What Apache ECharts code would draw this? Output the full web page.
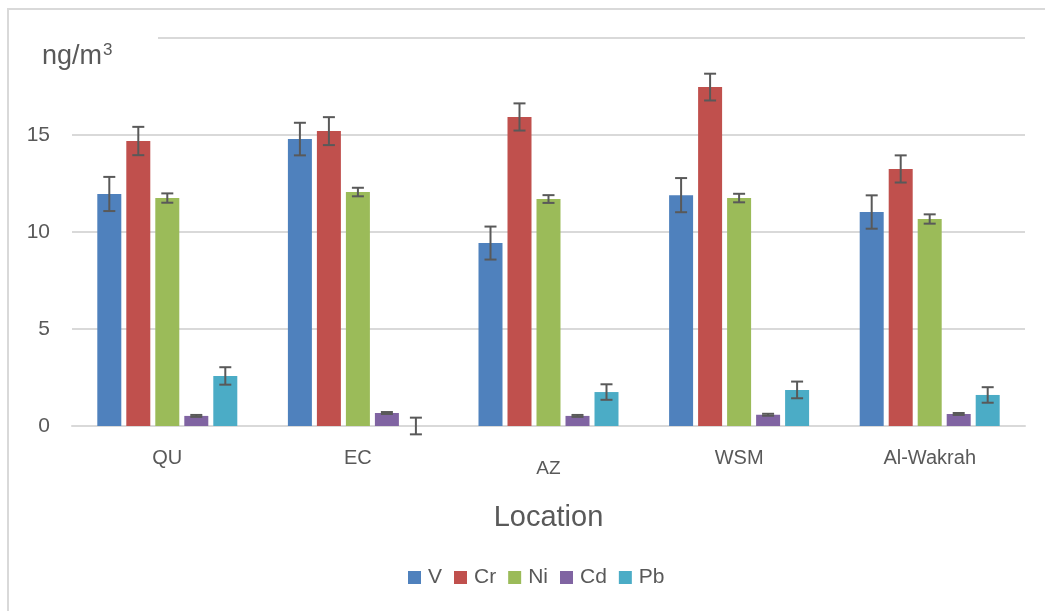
<!DOCTYPE html>
<html><head><meta charset="utf-8">
<script src="https://cdn.jsdelivr.net/npm/echarts@6/dist/echarts.min.js"></script>
<style>html,body{margin:0;padding:0;background:#fff}#c{width:1045px;height:611px}</style>
</head><body><div id="c"></div>
<script>
const categories = ['QU', 'EC', 'AZ', 'WSM', 'Al-Wakrah'];
const seriesNames = ['V', 'Cr', 'Ni', 'Cd', 'Pb'];
const V  = [11.96, 14.79, 9.43, 11.90, 11.03];
const Cr = [14.69, 15.20, 15.93, 17.47, 13.25];
const Ni = [11.75, 12.06, 11.70, 11.75, 10.67];
const Cd = [0.52, 0.67, 0.52, 0.58, 0.62];
const Pb = [2.58, 0.00, 1.75, 1.86, 1.60];
const errV  = [0.88, 0.84, 0.85, 0.88, 0.86];
const errCr = [0.73, 0.72, 0.70, 0.69, 0.70];
const errNi = [0.24, 0.22, 0.20, 0.22, 0.24];
const errCd = [0.05, 0.05, 0.05, 0.05, 0.05];
const errPb = [0.45, 0.43, 0.40, 0.43, 0.40];
const yTicks = [0, 5, 10, 15, 20];

const colors = ['#4F81BD', '#C0504D', '#9BBB59', '#8064A2', '#4BACC6'];
const values = [V, Cr, Ni, Cd, Pb];
const errs = [errV, errCr, errNi, errCd, errPb];
const BAR_W = 24, STRIDE = 29;
const txt = '#595959';
const font = 'Liberation Sans, Arial, sans-serif';

const chart = echarts.init(document.getElementById('c'), null, {renderer: 'canvas'});

const barSeries = seriesNames.map((n, i) => ({
  name: n, type: 'bar', data: values[i], barWidth: BAR_W, barGap: ((STRIDE - BAR_W) / BAR_W * 100) + '%',
  itemStyle: {color: colors[i]}, z: 2
}));

const errSeries = seriesNames.map((n, i) => ({
  name: n + ' err', type: 'custom', z: 5,
  data: categories.map((c, k) => [k, values[i][k], errs[i][k]]),
  encode: {x: 0, y: 1},
  renderItem: function (params, api) {
    const k = api.value(0), v = api.value(1), e = api.value(2);
    const base = api.coord([k, v]);
    const x = base[0] + (i - 2) * STRIDE;
    const yHi = api.coord([k, v + e])[1];
    const yLo = api.coord([k, v - e])[1];
    const cw = 6;
    const st = {stroke: '#595959', lineWidth: 2};
    return {type: 'group', children: [
      {type: 'line', shape: {x1: x, y1: yHi, x2: x, y2: yLo}, style: st},
      {type: 'line', shape: {x1: x - cw, y1: yHi, x2: x + cw, y2: yHi}, style: st},
      {type: 'line', shape: {x1: x - cw, y1: yLo, x2: x + cw, y2: yLo}, style: st}
    ]};
  },
  tooltip: {show: false}
}));

chart.setOption({
  backgroundColor: '#fff',
  animation: false,
  color: colors,
  textStyle: {fontFamily: font},
  grid: {left: 72, right: 20, top: 38, bottom: 185, containLabel: false},
  legend: {
    data: seriesNames, left: 403, top: 562, itemWidth: 13, itemHeight: 13, itemGap: 12,
    icon: 'rect', textStyle: {color: txt, fontSize: 21, fontFamily: font, padding: [0, 0, 0, 2]}
  },
  xAxis: {
    type: 'category', data: categories,
    axisLine: {show: true, lineStyle: {color: '#D9D9D9', width: 2}},
    axisTick: {show: false},
    axisLabel: {
      color: txt, fontSize: 20, fontFamily: font, margin: 22,
      formatter: v => v === 'AZ' ? '{low|AZ}' : v,
      rich: {low: {fontSize: 19, color: txt, fontFamily: font, padding: [11, 0, 0, 0]}}
    },
    name: 'Location', nameLocation: 'middle', nameGap: 77,
    nameTextStyle: {color: txt, fontSize: 29, fontFamily: font}
  },
  yAxis: {
    type: 'value', min: 0, max: 20, interval: 5,
    axisLine: {show: false}, axisTick: {show: false},
    splitLine: {lineStyle: {color: '#D9D9D9', width: 2}},
    axisLabel: {color: txt, fontSize: 21, fontFamily: font, margin: 22, showMaxLabel: false}
  },
  graphic: [
    {type: 'rect', z: 100, shape: {x: 60, y: 28, width: 98, height: 20}, style: {fill: '#fff'}},
    {type: 'text', z: 101, left: 42, top: 42,
      style: {text: 'ng/m{sup|3}', fill: txt, font: '27px ' + font,
        rich: {sup: {fontSize: 17, fill: txt, fontFamily: font, verticalAlign: 'top', padding: [0, 0, 12, 1]}}}},
    {type: 'rect', z: 100, shape: {x: 8, y: 9, width: 1100, height: 700},
      style: {fill: 'none', stroke: '#D9D9D9', lineWidth: 2}}
  ],
  series: barSeries.concat(errSeries)
});
</script></body></html>
